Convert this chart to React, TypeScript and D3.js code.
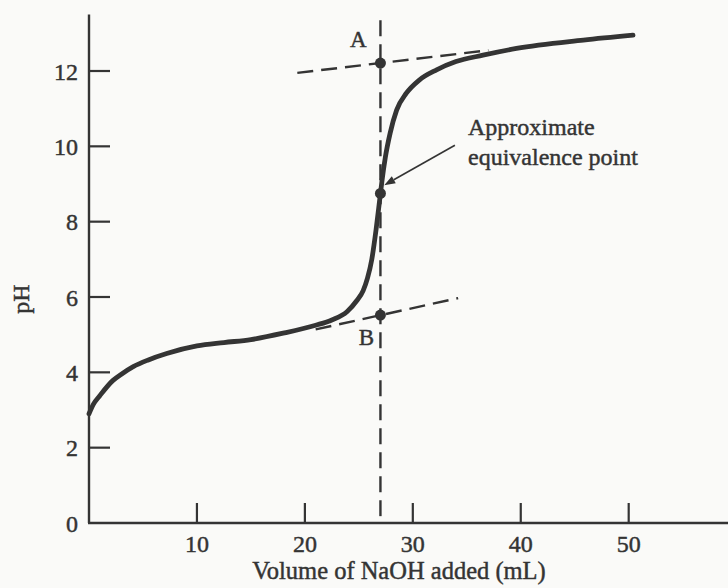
import React from "react";
import * as d3 from "d3";

const volumes = [0, 0.4, 1, 2.2, 3, 4.1, 5.5, 7.2, 10, 12.5, 15, 18, 21, 22.5, 23.9, 24.8, 25.4, 25.8, 26.2, 26.6, 26.94, 27.15, 27.45, 27.9, 28.5, 29.4, 30.6, 32.2, 34, 36.5, 39.6, 45.8, 50.4];
const phValues = [2.9, 3.15, 3.38, 3.78, 3.95, 4.15, 4.33, 4.5, 4.7, 4.79, 4.87, 5.04, 5.25, 5.39, 5.61, 5.9, 6.17, 6.5, 7.0, 7.8, 8.6, 9.1, 9.7, 10.35, 10.96, 11.41, 11.76, 12.03, 12.25, 12.42, 12.6, 12.82, 12.95];

const xTicks = [10, 20, 30, 40, 50];
const yTicks = [0, 2, 4, 6, 8, 10, 12];

const equivVolume = 27;
const pointA = { v: 27, ph: 12.21, label: "A" };
const pointB = { v: 27, ph: 5.52, label: "B" };
const pointEq = { v: 27, ph: 8.75 };
const upperTangent = [[19.3, 11.95], [37, 12.55]];
const lowerTangent = [[21, 5.14], [34.2, 5.97]];
const annotationLines = ["Approximate", "equivalence point"];

const W = 728;
const H = 588;
const INK = "#343434";
const FONT = "'Liberation Serif', 'Times New Roman', serif";

export default function App() {
  const x = d3.scaleLinear().domain([0, 59.2]).range([89, 728]);
  const y = d3.scaleLinear().domain([0, 13.5]).range([523, 14.5]);

  const pts: [number, number][] = volumes.map((v, i) => [v, phValues[i]]);
  const line = d3
    .line<[number, number]>()
    .x((d) => x(d[0]))
    .y((d) => y(d[1]))
    .curve(d3.curveMonotoneX);

  const arrowStart = [x(33.9), y(10.03)];
  const arrowEnd = [x(27.35), y(8.97)];
  const ang = Math.atan2(arrowEnd[1] - arrowStart[1], arrowEnd[0] - arrowStart[0]);
  const ah = 11;
  const aw = 4;
  const tip = arrowEnd;
  const back = [tip[0] - ah * Math.cos(ang), tip[1] - ah * Math.sin(ang)];
  const p1 = [back[0] + aw * Math.sin(ang), back[1] - aw * Math.cos(ang)];
  const p2 = [back[0] - aw * Math.sin(ang), back[1] + aw * Math.cos(ang)];

  const textStyle = { fill: INK, stroke: INK, strokeWidth: 0.45 } as const;

  return (
    <svg
      width={W}
      height={H}
      style={{ position: "absolute", left: 0, top: 0, background: "#fafaf8" }}
      fontFamily={FONT}
    >
      <rect x={0} y={0} width={W} height={H} fill="#fafaf8" />
      {/* axes */}
      <line x1={x(0)} x2={x(0)} y1={y(13.5)} y2={y(0)} stroke={INK} strokeWidth={2.4} />
      <line x1={x(0) - 1} x2={x(59.2)} y1={y(0)} y2={y(0)} stroke={INK} strokeWidth={2.4} />
      {yTicks.map((t) => (
        <g key={"y" + t}>
          {t > 0 && (
            <line x1={x(0)} x2={x(0) + 21} y1={y(t)} y2={y(t)} stroke={INK} strokeWidth={2.2} />
          )}
          <text x={x(0) - 11} y={y(t)} dy="0.36em" textAnchor="end" fontSize={24} {...textStyle}>
            {t}
          </text>
        </g>
      ))}
      {xTicks.map((t) => (
        <g key={"x" + t}>
          <line x1={x(t)} x2={x(t)} y1={y(0)} y2={y(0) - 20} stroke={INK} strokeWidth={2.2} />
          <text x={x(t)} y={552} textAnchor="middle" fontSize={24} {...textStyle}>
            {t}
          </text>
        </g>
      ))}
      <text x={399} y={579} textAnchor="middle" fontSize={24.5} {...textStyle}>
        Volume of NaOH added (mL)
      </text>
      <text transform={`translate(29, 299) rotate(-90)`} textAnchor="middle" fontSize={24} {...textStyle}>
        pH
      </text>

      {/* dashed construction lines */}
      <line
        x1={x(equivVolume)}
        x2={x(equivVolume)}
        y1={y(13.35)}
        y2={y(0)}
        stroke={INK}
        strokeWidth={2.4}
        strokeDasharray="16 8"
      />
      <line
        x1={x(upperTangent[0][0])}
        y1={y(upperTangent[0][1])}
        x2={x(upperTangent[1][0])}
        y2={y(upperTangent[1][1])}
        stroke={INK}
        strokeWidth={2.4}
        strokeDasharray="16 8"
      />
      <line
        x1={x(lowerTangent[0][0])}
        y1={y(lowerTangent[0][1])}
        x2={x(lowerTangent[1][0])}
        y2={y(lowerTangent[1][1])}
        stroke={INK}
        strokeWidth={2.4}
        strokeDasharray="16 8"
      />

      {/* titration curve */}
      <path d={line(pts) || ""} fill="none" stroke={INK} strokeWidth={4.8} strokeLinecap="round" />

      {/* markers */}
      {[pointA, pointB, pointEq].map((p, i) => (
        <circle key={i} cx={x(p.v)} cy={y(p.ph)} r={5.5} fill={INK} />
      ))}
      <text x={x(pointA.v) - 22} y={y(pointA.ph) - 16} textAnchor="middle" fontSize={23} {...textStyle}>
        {pointA.label}
      </text>
      <text x={x(pointB.v) - 14} y={y(pointB.ph) + 30} textAnchor="middle" fontSize={23} {...textStyle}>
        {pointB.label}
      </text>

      {/* annotation */}
      <line x1={arrowStart[0]} y1={arrowStart[1]} x2={back[0]} y2={back[1]} stroke={INK} strokeWidth={1.6} />
      <polygon points={`${tip[0]},${tip[1]} ${p1[0]},${p1[1]} ${p2[0]},${p2[1]}`} fill={INK} />
      <text x={468} y={135} fontSize={24} {...textStyle}>
        {annotationLines[0]}
      </text>
      <text x={468} y={165} fontSize={24} {...textStyle}>
        {annotationLines[1]}
      </text>
    </svg>
  );
}
